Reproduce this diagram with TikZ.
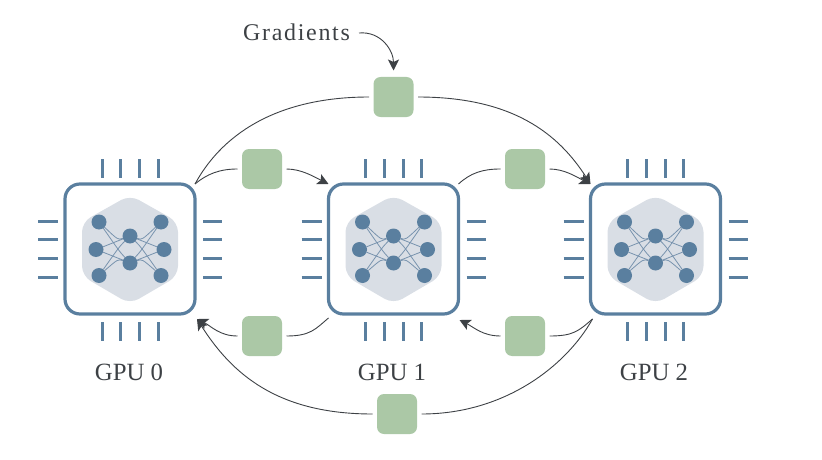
\documentclass[tikz,border=0pt]{standalone}
\usepackage{fontspec}
\setmainfont{Liberation Serif}
\newfontfamily\gradfont[LetterSpace=7]{Liberation Serif}
\usetikzlibrary{arrows.meta}
\definecolor{chipblue}{HTML}{5A7F9F}
\definecolor{hexgrey}{HTML}{D9DEE5}
\definecolor{wireblue}{HTML}{7893AE}
\definecolor{gradgreen}{HTML}{ABC8A6}
\definecolor{inkgrey}{HTML}{3D4145}
\tikzset{
  chipbox/.style={draw=chipblue,line width=3.2pt,rounded corners=15pt,minimum size=130pt,inner sep=0pt,outer sep=0pt},
  pinline/.style={draw=chipblue,line width=3pt},
  neuron/.style={circle,fill=chipblue,minimum size=15pt,inner sep=0pt,outer sep=0pt},
  wire/.style={draw=wireblue,line width=0.8pt},
  gradbox/.style={fill=gradgreen,rounded corners=7pt,minimum size=40pt,inner sep=0pt,outer sep=4.5pt},
  flow/.style={draw=inkgrey,line width=0.9pt,-{Stealth[length=11pt,width=11pt,inset=2.5pt]}},
  plainflow/.style={draw=inkgrey,line width=0.9pt},
  lab/.style={font=\fontsize{24.8}{26}\selectfont,text=inkgrey,anchor=base,inner sep=0pt}
}
\begin{document}
\begin{tikzpicture}[x=1pt,y=-1pt]
\useasboundingbox (0,0) rectangle (822,460);
\foreach \c/\cx in {0/130,1/393.5,2/655.5}{
  \begin{scope}[shift={(\cx,249)}]
    \node[chipbox] (chip\c) at (0,0) {};
    \foreach \p in {-28,-9.5,9.5,28}{
      \draw[pinline] (\p,-90) -- (\p,-71);
      \draw[pinline] (\p,73) -- (\p,92);
      \draw[pinline] (-92,\p) -- (-72,\p);
      \draw[pinline] (73,\p) -- (92,\p);
    }
    \fill[hexgrey,rounded corners=10pt] (0,-54) -- (48,-27) -- (48,27) -- (0,55) -- (-48,27) -- (-48,-27) -- cycle;
    \node[neuron] (n\c a) at (-31,-27) {};
    \node[neuron] (n\c b) at (-34,0.5) {};
    \node[neuron] (n\c c) at (-31,26.5) {};
    \node[neuron] (n\c d) at (0,-13) {};
    \node[neuron] (n\c e) at (0,14) {};
    \node[neuron] (n\c f) at (31,-27) {};
    \node[neuron] (n\c g) at (34,0.5) {};
    \node[neuron] (n\c h) at (31,26.5) {};
    \foreach \l/\m/\kx/\ky in {a/d/-12/-9,a/e/-10.5/2.5,b/d/-17/-6,b/e/-17/7,c/e/-12/10,c/d/-10.5/-2.5}{
      \draw[wire] (n\c\l) .. controls (\kx,\ky) .. (n\c\m);
    }
    \foreach \l/\m/\kx/\ky in {f/d/12/-9,f/e/10.5/2.5,g/d/17/-6,g/e/17/7,h/e/12/10,h/d/10.5/-2.5}{
      \draw[wire] (n\c\l) .. controls (\kx,\ky) .. (n\c\m);
    }
  \end{scope}
}
\node[lab] (lab0) at (129,380) {GPU 0};
\node[lab] (lab1) at (392,380) {GPU 1};
\node[lab] (lab2) at (654,380) {GPU 2};
\node[gradbox] (gt) at (393.5,97) {};
\node[gradbox] (gul) at (262,169) {};
\node[gradbox] (gur) at (525,169) {};
\node[gradbox] (gll) at (262,336) {};
\node[gradbox] (glr) at (525,336) {};
\node[gradbox] (gb) at (397,414) {};
\node[lab,font=\fontsize{24}{26}\selectfont\gradfont,anchor=base west] (grad) at (243,41) {Gradients};
\coordinate (gradstart) at (359,33);
\draw[flow] (gradstart) .. controls +(22,-2) and +(0,-20) .. ([yshift=2pt]gt.north);
% top arcs
\draw[plainflow] (chip0.north east) .. controls +(30,-55) and +(-85,0) .. (gt.west);
\draw[flow] (gt.east) .. controls +(95,0) and +(-32,-50) .. (chip2.north west);
\draw[plainflow] (chip0.north east) .. controls +(12,-10) and +(-18,0) .. (gul.west);
\draw[flow] (gul.east) .. controls +(15,0) and +(-14,-7) .. (chip1.north west);
\draw[plainflow] (chip1.north east) .. controls +(12,-11) and +(-18,0) .. (gur.west);
\draw[flow] (gur.east) .. controls +(15,0) and +(-14,-7) .. (chip2.north west);
% bottom arcs
\coordinate (c0in) at ([shift={(2,5)}]chip0.south east);
\coordinate (c1out) at ([shift={(0,4)}]chip1.south west);
\coordinate (c1in) at ([shift={(1,6)}]chip1.south east);
\coordinate (c2out) at ([shift={(2,5)}]chip2.south west);
\draw[plainflow] (c1out) .. controls +(-13,11) and +(24,0) .. (gll.east);
\draw[flow] (gll.west) .. controls +(-18,0) and +(14,7) .. (c0in);
\draw[plainflow] (c2out) .. controls +(-14,12) and +(24,0) .. (glr.east);
\draw[flow] (glr.west) .. controls +(-18,0) and +(14,7) .. (c1in);
\draw[plainflow] (c2out) .. controls +(-25,45) and +(85,0) .. (gb.east);
\draw[flow] (gb.west) .. controls +(-95,0) and +(35,55) .. (c0in);
\end{tikzpicture}
\end{document}
